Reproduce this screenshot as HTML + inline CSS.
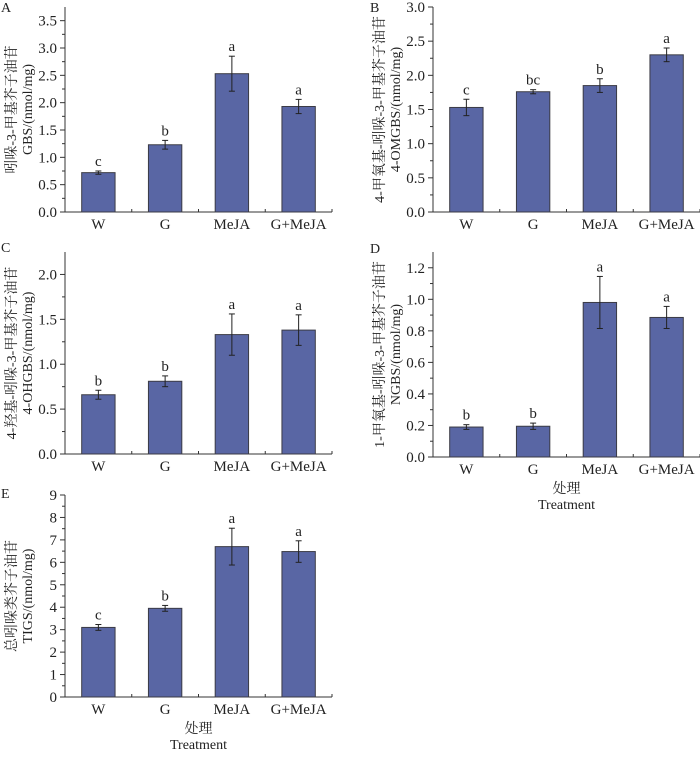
<!DOCTYPE html>
<html><head><meta charset="utf-8">
<style>
html,body{margin:0;padding:0;background:#fff;}
svg{display:block;}
text{font-family:"Liberation Serif","Noto Serif CJK SC",serif;fill:#222;}
</style></head>
<body>
<svg id="fig" width="700" height="758" viewBox="0 0 700 758" xmlns="http://www.w3.org/2000/svg"></svg>
<script>
const categories = ["W","G","MeJA","G+MeJA"];
const valuesA = [0.72,1.23,2.53,1.93];
const errA = [0.03,0.08,0.32,0.13];
const lettersA = ["c","b","a","a"];
const ticksA = [0,0.5,1.0,1.5,2.0,2.5,3.0,3.5];
const valuesB = [1.53,1.76,1.85,2.30];
const errB = [0.12,0.03,0.10,0.10];
const lettersB = ["c","bc","b","a"];
const ticksB = [0,0.5,1.0,1.5,2.0,2.5,3.0];
const valuesC = [0.66,0.81,1.33,1.38];
const errC = [0.05,0.06,0.23,0.17];
const lettersC = ["b","b","a","a"];
const ticksC = [0,0.5,1.0,1.5,2.0];
const valuesD = [0.19,0.195,0.98,0.885];
const errD = [0.015,0.02,0.165,0.07];
const lettersD = ["b","b","a","a"];
const ticksD = [0,0.2,0.4,0.6,0.8,1.0,1.2];
const valuesE = [3.10,3.95,6.70,6.48];
const errE = [0.13,0.13,0.82,0.48];
const lettersE = ["c","b","a","a"];
const ticksE = [0,1,2,3,4,5,6,7,8,9];

const NS="http://www.w3.org/2000/svg";
const svg=document.getElementById('fig');
function mk(tag,attrs,parent){const e=document.createElementNS(NS,tag);for(const k in attrs)e.setAttribute(k,attrs[k]);(parent||svg).appendChild(e);return e;}

function panel(p){
  const g=mk('g',{});
  
  
  const x0=p.ox, x1=p.ox+267, y0=p.y0, yT=p.yTop;
  const ys=v=>y0-(v/p.max)*(y0-yT);
  const slot=(x1-x0)/categories.length;
  const xs=i=>x0+slot*(i+0.5);
  const dec=p.dec;
  const ax=mk('line',{x1:x0,y1:yT,x2:x0,y2:y0,stroke:'#333','stroke-width':1},g);
  
  const bx=mk('line',{x1:x0,y1:y0,x2:x1,y2:y0,stroke:'#333','stroke-width':1},g);
  
  p.ticks.forEach((t,i)=>{
    const y=ys(t);
    mk('line',{x1:x0-5,y1:y,x2:x0,y2:y,stroke:'#333'},g);
    if(i<p.ticks.length-1){const ym=ys((t+p.ticks[i+1])/2);mk('line',{x1:x0-3,y1:ym,x2:x0,y2:ym,stroke:'#333'},g);}
    const tl=mk('text',{x:x0-8,y:y+5,'text-anchor':'end','font-size':15},g);
    tl.textContent=t.toFixed(dec);
    
  });
  for(let i=0;i<=categories.length*2;i++){const x=x0+slot*i/2;mk('line',{x1:x,y1:y0,x2:x,y2:y0-3,stroke:'#333'},g);}
  categories.forEach((c,i)=>{
    const v=p.values[i],e=p.err[i],cx=xs(i),w=slot*0.5;
    const r=mk('rect',{x:cx-w/2,y:ys(v),width:w,height:y0-ys(v),fill:'#5966a4',stroke:'#3b3b45','stroke-width':1},g);
    
    
    const yt=ys(v+e),yb=ys(v-e);
    mk('line',{x1:cx,y1:yt,x2:cx,y2:yb,stroke:'#222','stroke-width':1},g);
    mk('line',{x1:cx-3,y1:yt,x2:cx+3,y2:yt,stroke:'#222'},g);
    mk('line',{x1:cx-3,y1:yb,x2:cx+3,y2:yb,stroke:'#222'},g);
    const lt=mk('text',{x:cx,y:yt-5,'text-anchor':'middle','font-size':15},g);
    lt.textContent=p.letters[i];
    
    const xl=mk('text',{x:cx,y:y0+17,'text-anchor':'middle','font-size':15},g);
    xl.textContent=c;
    
  });
  const pl=mk('text',{x:p.lx,y:p.ly,'font-size':14},g);
  pl.textContent=p.id;
  
  const cy=(yT+y0)/2;
  const t1=mk('text',{x:p.tx1,y:cy,'text-anchor':'middle','font-size':14,transform:`rotate(-90 ${p.tx1} ${cy})`},g);
  t1.textContent=p.t1;
  
  const t2=mk('text',{x:p.tx2,y:cy,'text-anchor':'middle','font-size':14,transform:`rotate(-90 ${p.tx2} ${cy})`},g);
  t2.textContent=p.t2;
  
  if(p.treat){
    const cx=(x0+x1)/2;
    const a=mk('text',{x:cx,y:y0+36,'text-anchor':'middle','font-size':14},g);a.textContent='处理';
    
    const b=mk('text',{x:cx,y:y0+52,'text-anchor':'middle','font-size':14},g);b.textContent='Treatment';
    
  }
}
panel({id:'A',ox:65,y0:212,yTop:7,max:3.75,ticks:ticksA,dec:1,values:valuesA,err:errA,letters:lettersA,lx:1,ly:12,tx1:16,tx2:32,t1:'吲哚-3-甲基芥子油苷',t2:'GBS/(nmol/mg)'});
panel({id:'B',ox:433,y0:212,yTop:7,max:3.0,ticks:ticksB,dec:1,values:valuesB,err:errB,letters:lettersB,lx:370,ly:12,tx1:384,tx2:400,t1:'4-甲氧基-吲哚-3-甲基芥子油苷',t2:'4-OMGBS/(nmol/mg)'});
panel({id:'C',ox:65,y0:454,yTop:252,max:2.25,ticks:ticksC,dec:1,values:valuesC,err:errC,letters:lettersC,lx:1,ly:252,tx1:16,tx2:32,t1:'4-羟基-吲哚-3-甲基芥子油苷',t2:'4-OHGBS/(nmol/mg)'});
panel({id:'D',ox:433,y0:457,yTop:252,max:1.3,ticks:ticksD,dec:1,values:valuesD,err:errD,letters:lettersD,lx:370,ly:253,tx1:384,tx2:400,t1:'1-甲氧基-吲哚-3-甲基芥子油苷',t2:'NGBS/(nmol/mg)',treat:true});
panel({id:'E',ox:65,y0:697,yTop:495,max:9,ticks:ticksE,dec:0,values:valuesE,err:errE,letters:lettersE,lx:1,ly:498,tx1:16,tx2:32,t1:'总吲哚类芥子油苷',t2:'TIGS/(nmol/mg)',treat:true});
</script>
</body></html>
